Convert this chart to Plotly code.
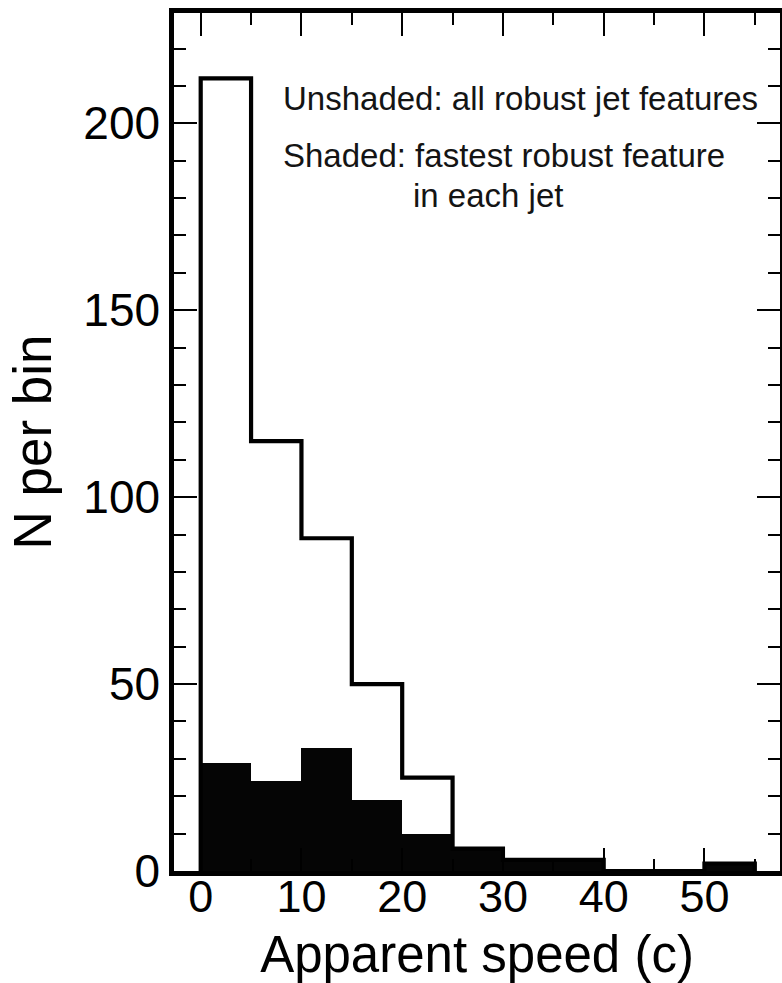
import plotly.graph_objects as go

# Histogram bins of apparent speed (units of c), 5c wide
bin_edges = [0, 5, 10, 15, 20, 25, 30, 35, 40, 45, 50, 55]
# All robust jet features (unshaded outline)
all_features = [212, 115, 89, 50, 25, 6, 3, 3, 0, 0, 2]
# Fastest robust feature in each jet (shaded)
fastest_feature = [29, 24, 33, 19, 10, 6, 3, 3, 0, 0, 2]

x_tick_vals = [0, 10, 20, 30, 40, 50]
y_tick_vals = [0, 50, 100, 150, 200]

FONT = "Liberation Sans, Arial, Helvetica, sans-serif"

bin_width = bin_edges[1] - bin_edges[0]
bin_centers = [e + bin_width / 2 for e in bin_edges[:-1]]

# Step outline for the full sample: starts at zero, steps through every bin, returns to zero
step_x = [bin_edges[0]] + bin_edges[:-1] + [bin_edges[-1]]
step_y = [0] + all_features + [0]

fig = go.Figure()

fig.add_trace(go.Bar(
    x=bin_centers,
    y=fastest_feature,
    width=bin_width,
    marker=dict(color="#050505", line=dict(width=0)),
    showlegend=False,
    hoverinfo="skip",
))

fig.add_trace(go.Scatter(
    x=step_x,
    y=step_y,
    mode="lines",
    line=dict(shape="hv", color="black", width=4.2),
    showlegend=False,
    hoverinfo="skip",
))

axis_common = dict(
    showline=True,
    linecolor="black",
    linewidth=4.5,
    mirror="allticks",
    ticks="inside",
    tickcolor="black",
    tickwidth=2,
    ticklen=23,
    showgrid=False,
    zeroline=False,
)

fig.update_xaxes(
    **axis_common,
    range=[-2.65, 57.5],
    tickmode="array",
    tickvals=x_tick_vals,
    ticktext=[str(v) for v in x_tick_vals],
    tickfont=dict(family=FONT, size=45, color="black"),
    ticklabelstandoff=-18,
    minor=dict(dtick=5, tick0=0, ticks="inside", ticklen=12, tickwidth=2, tickcolor="black"),
    title=dict(text="Apparent speed (c)", font=dict(family=FONT, size=51, color="black"), standoff=26),
)

fig.update_yaxes(
    **axis_common,
    range=[0, 229.5],
    tickmode="array",
    tickvals=y_tick_vals,
    ticktext=[str(v) for v in y_tick_vals],
    tickfont=dict(family=FONT, size=46, color="black"),
    minor=dict(dtick=10, tick0=0, ticks="inside", ticklen=12, tickwidth=2, tickcolor="black"),
    title=dict(text="N per bin", font=dict(family=FONT, size=53, color="black"), standoff=16),
)

text_font = dict(family=FONT, size=33, color="#141414")
fig.add_annotation(x=8.0, y=206.6, xref="x", yref="y", text="Unshaded: all robust jet features",
                   showarrow=False, xanchor="left", yanchor="middle", font=text_font)
fig.add_annotation(x=8.0, y=191.5, xref="x", yref="y", text="Shaded: fastest robust feature",
                   showarrow=False, xanchor="left", yanchor="middle", font=text_font)
fig.add_annotation(x=20.9, y=180.8, xref="x", yref="y", text="in each jet",
                   showarrow=False, xanchor="left", yanchor="middle", font=text_font)

fig.update_layout(
    width=782,
    height=983,
    margin=dict(l=174, r=2, t=13, b=112, autoexpand=False),
    plot_bgcolor="white",
    paper_bgcolor="white",
    bargap=0,
)

fig.write_html("out.html")
